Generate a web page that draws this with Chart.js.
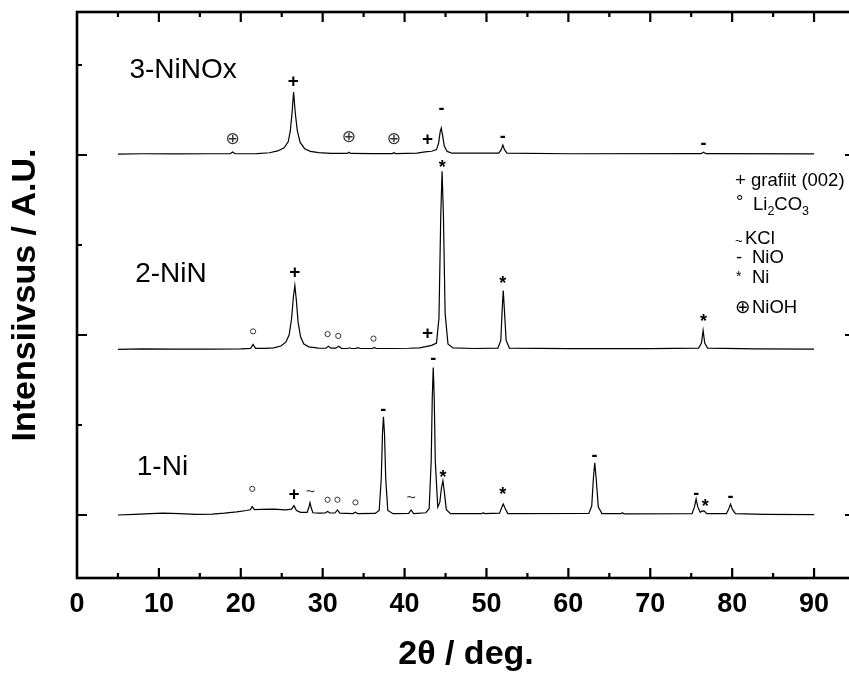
<!DOCTYPE html>
<html>
<head>
<meta charset="utf-8">
<script src="https://cdn.jsdelivr.net/npm/chart.js@4.4.1/dist/chart.umd.min.js"></script>
<style>
  html, body { margin: 0; padding: 0; overflow: hidden; background: #fff; }
  canvas { display: block; }
</style>
</head>
<body>
<canvas id="xrd" width="880" height="675"></canvas>
<script>
// XRD patterns, [2theta (deg), intensity (a.u.)]
const niPattern = [
  [5,0],[7,0.6],[9,1.5],[10.5,2],[12.5,1.6],[14.5,0.8],[16.5,0.9],[18,2],[19.5,3.5],[20.7,5],
  [21.15,5.8],[21.4,9.3],[21.65,6],[22.5,6.2],[24,6.5],[25.5,5.8],[26.2,6.5],[26.5,10.4],[26.8,5],
  [27.3,3],[28.1,3],[28.3,8],[28.45,13.7],[28.6,8],[28.8,2.5],[29.6,2],[30.3,2.2],[30.6,4],[30.9,2.2],
  [31.5,2.2],[31.8,5.6],[32.1,2],[33.7,1.6],[34.0,3],[34.3,1.5],[36.4,1.8],[36.9,5],[37.15,40],
  [37.3,90],[37.42,109],[37.55,90],[37.7,40],[37.95,5],[38.6,1.5],[40.5,1.8],[40.8,5.6],[41.1,1.5],
  [42.6,2.5],[43.0,7],[43.25,60],[43.38,130],[43.5,164],[43.62,130],[43.75,60],[44.05,9],[44.3,14],
  [44.5,30],[44.68,38],[44.85,26],[45.1,6],[45.6,1.6],[49.4,1.5],[49.6,2.6],[49.8,1.5],[51.6,2],
  [51.85,8],[52.05,12.2],[52.3,7],[52.6,1.6],[62.5,1.8],[62.85,10],[63.05,40],[63.22,58],[63.4,40],
  [63.65,9],[64.1,1.5],[66.4,1.5],[66.6,2.6],[66.8,1.2],[75.1,1.5],[75.4,9],[75.6,17.8],[75.8,9],
  [76.1,3],[76.35,4.6],[76.6,4.4],[76.9,1.5],[79.3,1.5],[79.55,6],[79.8,12],[80.05,6],[80.4,1.5],
  [84,0.8],[90,0.5]
];
const ninPattern = [
  [5,0],[8,0.6],[12,0.3],[16,0.2],[20,0.6],[21.2,1.2],[21.5,5.5],[21.8,1.2],[23,1.2],[24,1.8],
  [24.9,3.8],[25.5,8],[25.9,16],[26.2,34],[26.42,58],[26.6,71],[26.78,55],[27.0,30],[27.3,14],
  [27.7,6],[28.3,2.8],[29.5,1.5],[30.4,1.3],[30.7,3.6],[31.0,1.4],[31.6,1.4],[31.95,3.6],[32.3,1.2],
  [33.0,1],[33.3,1.8],[33.5,1],[34.0,1],[34.3,2],[34.6,1],[36.0,1],[36.3,2],[36.6,1],[38.5,1],
  [40.5,1.3],[41.8,1.8],[42.6,3],[43.3,4.5],[43.9,7],[44.2,35],[44.42,150],[44.58,198],[44.74,150],
  [44.95,40],[45.3,6],[45.9,1.6],[48.5,1],[51.4,1.5],[51.75,10],[51.92,45],[52.05,65.5],[52.18,45],
  [52.4,10],[52.8,1.5],[60,0.8],[70,0.8],[75.9,1.5],[76.25,7],[76.45,21],[76.65,7],[77.0,1.5],
  [83,0.6],[90,0.4]
];
const ninoxPattern = [
  [5,0],[8,0.4],[12,0.2],[16,0.4],[18.7,0.4],[19.0,2.4],[19.3,0.4],[22,0.6],[23.5,1.5],[24.5,3.5],
  [25.3,7],[25.8,14],[26.05,26],[26.25,45],[26.45,69],[26.65,46],[26.9,26],[27.25,13],[27.8,6],
  [28.5,3],[29.5,1.6],[31,0.9],[33.0,0.8],[33.2,2],[33.4,0.8],[36,0.6],[38.5,0.6],[38.7,1.6],
  [38.9,0.6],[41.5,1],[42.5,2.4],[43.3,3.2],[43.9,5],[44.15,12],[44.35,25],[44.48,29],[44.62,22],
  [44.85,9],[45.2,3],[45.8,1],[51.5,1],[51.8,5],[52.0,10],[52.2,5],[52.5,1],[60,0.4],[76.2,0.5],
  [76.5,2.2],[76.8,0.5],[90,0.2]
];

const sampleNames = ['1-Ni', '2-NiN', '3-NiNOx'];
const traceOffsets = [0, 184, 401];          // vertical stacking of the patterns
const sampleLabelAt = [[7.3, 44], [7.1, 259], [6.4, 486]];  // [2theta, level]

// phase marks: [2theta, level, symbol]
const peakMarks = [
  [19.0,418,'⊕'],[26.4,482,'+'],[33.2,420,'⊕'],[38.7,418,'⊕'],[42.8,418,'+'],[44.5,452,'-'],
  [52.0,421,'-'],[76.5,413,'-'],
  [21.5,204,'o'],[26.6,270,'+'],[30.6,201,'o'],[31.9,199,'o'],[36.2,196,'o'],[42.8,202,'+'],
  [44.6,391,'*'],[52.0,262,'*'],[76.5,220,'*'],
  [21.4,29,'o'],[26.5,23,'+'],[28.5,26,'~'],[30.6,17,'o'],[31.8,17,'o'],[34.0,14,'o'],
  [37.4,117,'-'],[40.8,20,'~'],[43.5,174,'-'],[44.7,46,'*'],[52.0,27,'*'],[63.2,66,'-'],
  [75.6,24,'-'],[76.7,14,'*'],[79.8,21,'-']
];

const legendSymbols = ['+', '°', '~', '-', '*', '⊕'];
const legendNames = ['grafiit (002)', 'Li_2CO_3', 'KCl', 'NiO', 'Ni', 'NiOH'];

const thetaTicks = [0, 10, 20, 30, 40, 50, 60, 70, 80, 90];
const levelTicks = [0, 100, 200, 300, 400, 500];

const FONT = '"Liberation Sans", Arial, sans-serif';

function putText(ctx, str, px, py) {
  ctx.fillText(str, px, py);
  return ctx.measureText(str).width;
}

// draw a glyph with its ink box centred on (px, py)
function centredGlyph(ctx, sym, px, py) {
  const m = ctx.measureText(sym);
  const off = (m.actualBoundingBoxAscent - m.actualBoundingBoxDescent) / 2;
  ctx.textAlign = 'center';
  ctx.textBaseline = 'alphabetic';
  ctx.fillText(sym, px, py + off);
}

const framePlugin = {
  id: 'frame',
  afterDatasetsDraw(chart) {
    const { ctx, chartArea: a, scales: { x, y } } = chart;
    ctx.save();
    ctx.strokeStyle = '#000';
    ctx.lineWidth = 2.6;
    ctx.strokeRect(a.left, a.top, a.right - a.left, a.bottom - a.top);

    ctx.lineWidth = 2.2;
    ctx.beginPath();
    for (let v = 5; v < 95; v += 5) {
      const px = x.getPixelForValue(v);
      const len = v % 10 === 0 ? 10 : 5;
      ctx.moveTo(px, a.bottom); ctx.lineTo(px, a.bottom - len);
      ctx.moveTo(px, a.top); ctx.lineTo(px, a.top + len);
    }
    levelTicks.forEach(v => {
      const py = y.getPixelForValue(v);
      const len = v % 200 === 0 ? 10 : 5;
      ctx.moveTo(a.left, py); ctx.lineTo(a.left + len, py);
      ctx.moveTo(a.right, py); ctx.lineTo(a.right - len, py);
    });
    ctx.stroke();

    // sample names
    ctx.fillStyle = '#000';
    ctx.font = '28px ' + FONT;
    ctx.textAlign = 'left';
    ctx.textBaseline = 'alphabetic';
    sampleNames.forEach((name, i) => {
      ctx.fillText(name, x.getPixelForValue(sampleLabelAt[i][0]), y.getPixelForValue(sampleLabelAt[i][1]));
    });

    // phase marks
    peakMarks.forEach(([t, lv, sym]) => {
      const px = x.getPixelForValue(t), py = y.getPixelForValue(lv);
      if (sym === 'o') {
        ctx.lineWidth = 1;
        ctx.strokeStyle = '#333';
        ctx.beginPath();
        ctx.arc(px, py, 2.6, 0, Math.PI * 2);
        ctx.stroke();
        return;
      }
      if (sym === '+') { ctx.font = 'bold 19px ' + FONT; ctx.fillStyle = '#000'; }
      else if (sym === '-') { ctx.font = 'bold 18px ' + FONT; ctx.fillStyle = '#000'; }
      else if (sym === '*') { ctx.font = 'bold 18px ' + FONT; ctx.fillStyle = '#000'; }
      else if (sym === '~') { ctx.font = '16px ' + FONT; ctx.fillStyle = '#333'; }
      else { ctx.font = '17px "DejaVu Sans", sans-serif'; ctx.fillStyle = '#333'; }
      centredGlyph(ctx, sym, px, py);
    });

    // legend
    const lx = 735;
    const rows = [186, 210, 244, 263, 283, 313];
    ctx.fillStyle = '#000';
    ctx.textAlign = 'left';
    ctx.textBaseline = 'alphabetic';
    legendSymbols.forEach((sym, i) => {
      const base = rows[i];
      let nx = lx + 16;
      if (sym === '+') { ctx.font = '18.5px ' + FONT; putText(ctx, sym, lx, base); nx = lx + 16; }
      else if (sym === '°') { ctx.font = '18.5px ' + FONT; putText(ctx, sym, lx + 1, base - 2); nx = lx + 18; }
      else if (sym === '~') { ctx.font = '13px ' + FONT; putText(ctx, sym, lx, base + 1); nx = lx + 10; }
      else if (sym === '-') { ctx.font = '18.5px ' + FONT; putText(ctx, sym, lx + 1, base); nx = lx + 17; }
      else if (sym === '*') { ctx.font = '14px ' + FONT; putText(ctx, sym, lx + 1, base - 2); nx = lx + 17; }
      else { ctx.font = '18.5px "DejaVu Sans", sans-serif'; putText(ctx, sym, lx, base); nx = lx + 17; }

      // name, "_d" means subscript digit
      const parts = legendNames[i].split(/(_\d)/).filter(s => s.length);
      parts.forEach(p => {
        if (p[0] === '_') {
          ctx.font = '12.5px ' + FONT;
          nx += putText(ctx, p.slice(1), nx, base + 5);
        } else {
          ctx.font = '18.5px ' + FONT;
          nx += putText(ctx, p, nx, base);
        }
      });
    });
    ctx.restore();
  }
};

const patterns = [niPattern, ninPattern, ninoxPattern];

new Chart(document.getElementById('xrd'), {
  type: 'line',
  data: {
    datasets: patterns.map((pat, i) => ({
      label: sampleNames[i],
      data: pat.map(([t, v]) => ({ x: t, y: v + traceOffsets[i] })),
      borderColor: '#000',
      borderWidth: 1.2,
      pointRadius: 0,
      tension: 0,
      fill: false,
    })),
  },
  options: {
    responsive: false,
    animation: false,
    devicePixelRatio: 1,
    layout: { padding: { top: 12, right: 25, left: 0, bottom: 0 } },
    plugins: { legend: { display: false }, tooltip: { enabled: false } },
    scales: {
      x: {
        type: 'linear',
        min: 0,
        max: 95,
        afterBuildTicks: s => { s.ticks = thetaTicks.map(v => ({ value: v })); },
        afterFit: s => { s.height = 97; },
        grid: { display: false, drawTicks: false },
        border: { display: false },
        ticks: {
          color: '#000',
          padding: 10,
          maxRotation: 0,
          font: { family: FONT, size: 27, weight: 'bold' },
        },
        title: {
          display: true,
          text: '2θ / deg.',
          color: '#000',
          padding: { top: 0, bottom: 0 },
          font: { family: FONT, size: 34, weight: 'bold' },
        },
      },
      y: {
        min: -70,
        max: 558.9,
        afterFit: s => { s.width = 77; },
        grid: { display: false, drawTicks: false },
        border: { display: false },
        ticks: { display: false },
        title: {
          display: true,
          text: 'Intensiivsus / A.U.',
          color: '#000',
          padding: { top: 5, bottom: 0 },
          font: { family: FONT, size: 34, weight: 'bold' },
        },
      },
    },
  },
  plugins: [framePlugin],
});
</script>
</body>
</html>
